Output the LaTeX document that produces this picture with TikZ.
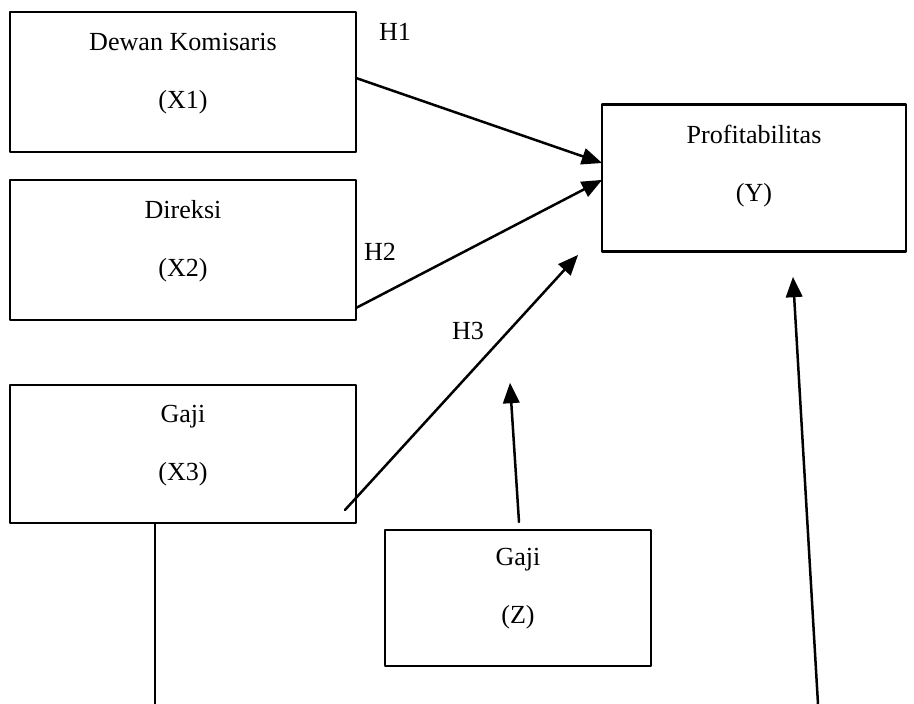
\documentclass[tikz,border=0pt]{standalone}
\usepackage{fontspec}
\setmainfont{Liberation Serif}
\usetikzlibrary{arrows}

\begin{document}
\begin{tikzpicture}[line cap=round,line join=round,>=triangle 45,x=0.46pt,y=-0.46pt,
  box/.style={draw,line width=1.05pt,inner sep=0pt},
  lbl/.style={align=center,font=\fontsize{12}{14}\selectfont},
  arr/.style={->,line width=1.15pt}]
\useasboundingbox (0,0) rectangle (914,704);
% boxes
\node[box,minimum width=159.2pt,minimum height=64.4pt] (x1) at (183,82) {};
\node[box,minimum width=159.2pt,minimum height=64.4pt] (x2) at (183,250) {};
\node[box,minimum width=159.2pt,minimum height=63.5pt] (x3) at (183,454) {};
\node[box,minimum width=122.4pt,minimum height=62.6pt] (z) at (518,598) {};
\node[box,minimum width=139.8pt,minimum height=67.6pt] (y) at (754,178) {};
\node[lbl] (x1t) at (183,74) {Dewan Komisaris\\[12.7pt](X1)};
\node[lbl] (x2t) at (183,241) {Direksi\\[12.7pt](X2)};
\node[lbl] (x3t) at (183,446) {Gaji\\[12.7pt](X3)};
\node[lbl] (zt) at (518,589) {Gaji\\[12.7pt](Z)};
\node[lbl] (yt) at (754,166) {Profitabilitas\\[12.7pt](Y)};
% hypotheses
\node[lbl] (h1) at (395,32) {H1};
\node[lbl] (h2) at (380,252) {H2};
\node[lbl] (h3) at (468,331) {H3};
% arrow ends
\coordinate (h1s) at (356,78);
\coordinate (h1e) at (602,163);
\coordinate (h2s) at (356,308);
\coordinate (h2e) at (602,180);
\coordinate (h3s) at (345,510);
\coordinate (h3e) at (578,255);
\coordinate (zs) at (519,522);
\coordinate (ze) at (510,383);
\coordinate (x3e) at (155,704);
\coordinate (rs) at (818,704);
\coordinate (re) at (793,277);
\draw [arr] (h1s) -- (h1e);
\draw [arr] (h2s) -- (h2e);
\draw [arr] (h3s) -- (h3e);
\draw [arr] (zs) -- (ze);
\draw [arr] (rs) -- (re);
\draw [line width=1.15pt] (x3.south -| x3e) -- (x3e);
\end{tikzpicture}
\end{document}
